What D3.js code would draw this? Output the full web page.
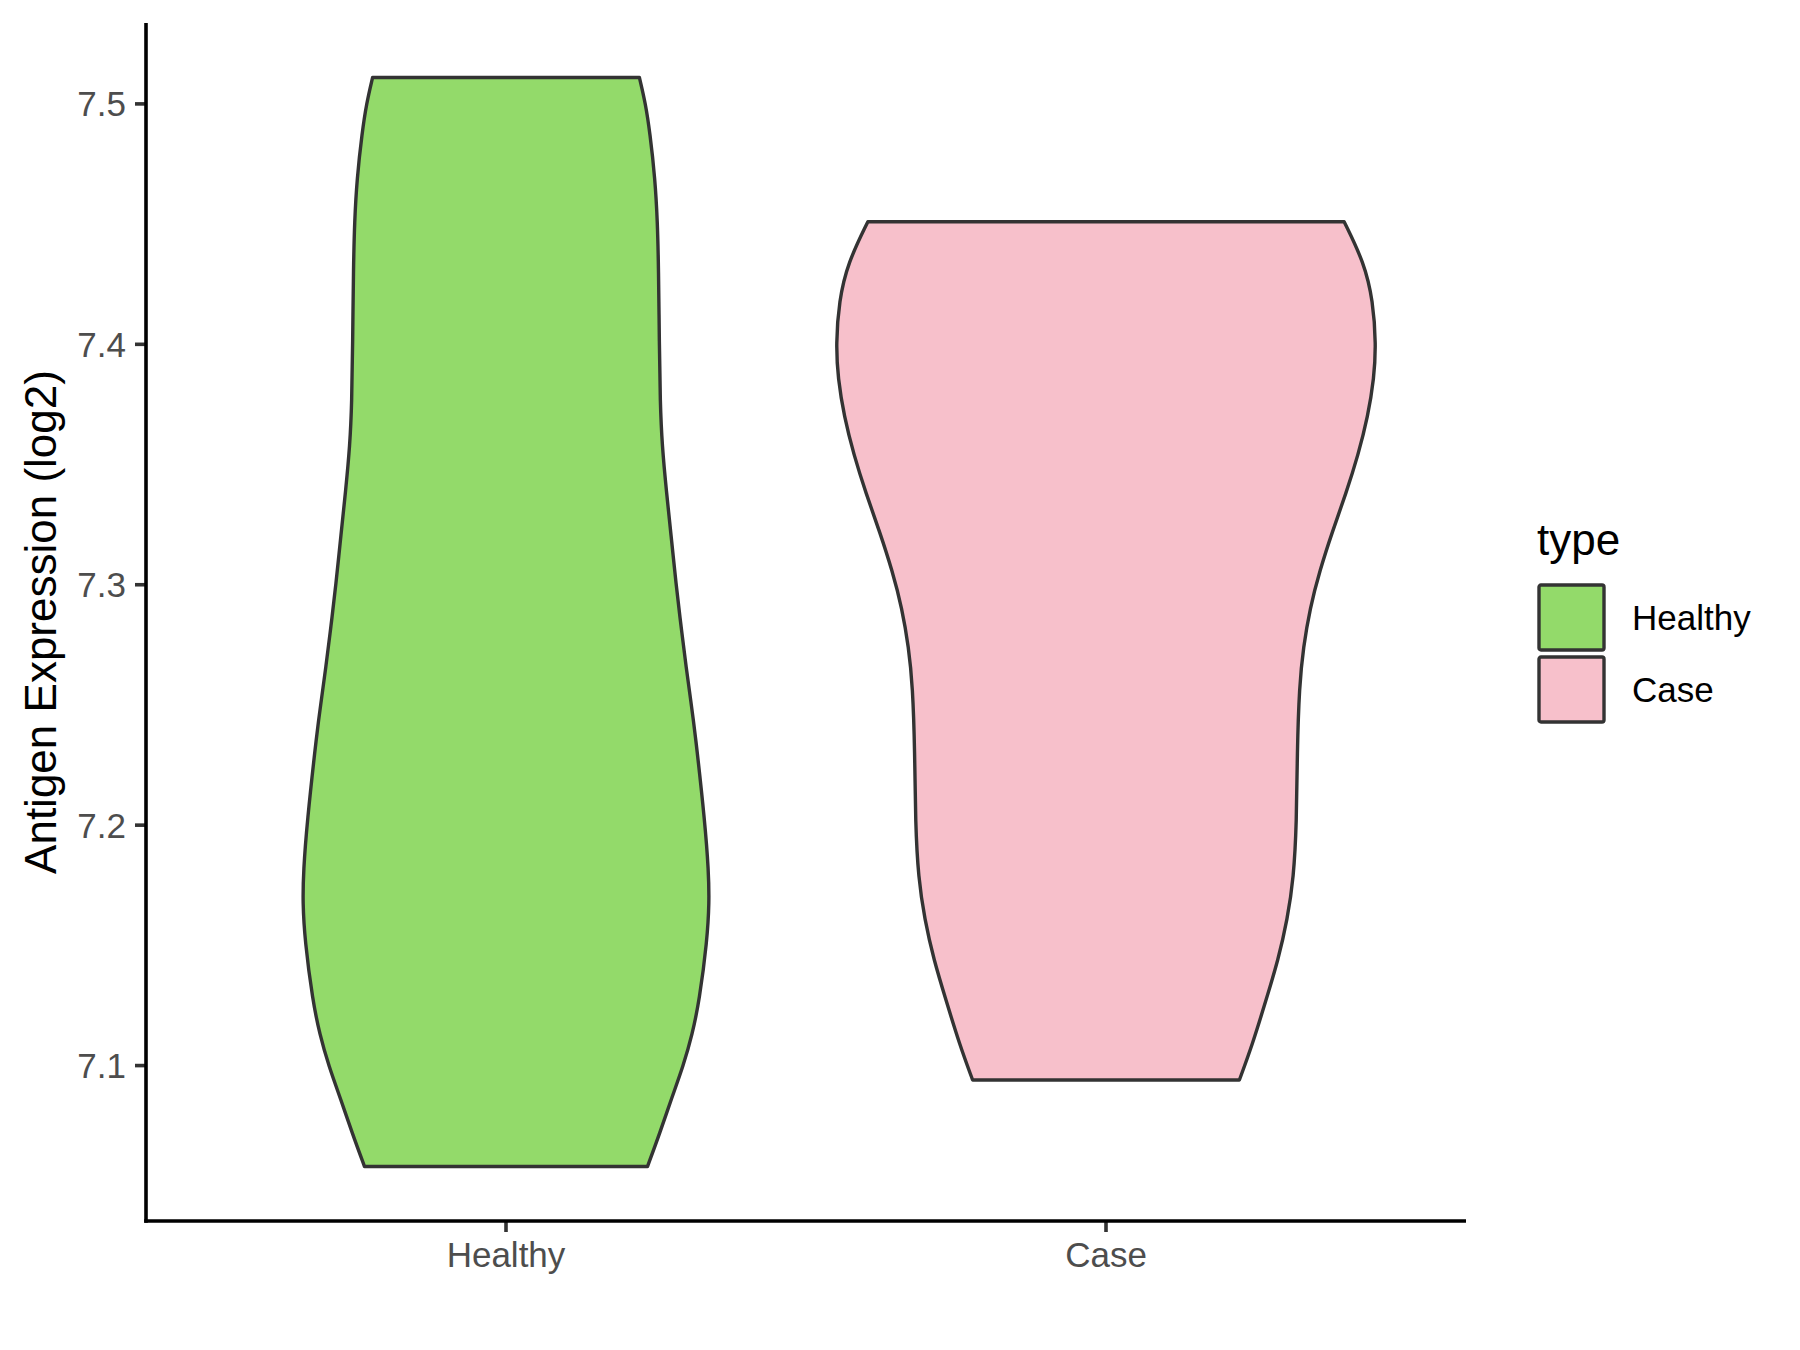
<!DOCTYPE html>
<html>
<head>
<meta charset="utf-8">
<script src="https://cdn.jsdelivr.net/npm/d3@7"></script>
<style>
    body { margin: 0; background: #ffffff; }
    svg text { font-family: "Liberation Sans", Arial, sans-serif; }
</style>
</head>
<body>
<div id="chart"></div>
<script>
// categories and fill colours
var categories = ["Healthy", "Case"]
var fillColors = ["#93DA6A", "#F7C0CB"]
var yTicks = [7.1, 7.2, 7.3, 7.4, 7.5]
var yTitle = "Antigen Expression (log2)"
var legendTitle = "type"

// violin outlines: expression value and relative density
var healthyY = [7.511, 7.500, 7.488, 7.469, 7.451, 7.432, 7.400, 7.376, 7.358, 7.339, 7.321, 7.300,
    7.283, 7.265, 7.252, 7.239, 7.200, 7.181, 7.168, 7.152, 7.127, 7.113, 7.100, 7.086, 7.072, 7.058]
var healthyDensity = [0.494, 0.517, 0.533, 0.552, 0.561, 0.565, 0.568, 0.571, 0.578, 0.594, 0.611, 0.630,
    0.648, 0.668, 0.684, 0.700, 0.738, 0.750, 0.753, 0.745, 0.716, 0.690, 0.657, 0.612, 0.570, 0.524]
var caseY = [7.451, 7.434, 7.418, 7.400, 7.386, 7.370, 7.354, 7.338, 7.322, 7.306, 7.290,
    7.274, 7.258, 7.230, 7.201, 7.178, 7.161, 7.144, 7.127, 7.109, 7.094]
var caseDensity = [0.882, 0.956, 0.989, 1.000, 0.993, 0.970, 0.934, 0.889, 0.838, 0.792, 0.755,
    0.731, 0.716, 0.708, 0.706, 0.695, 0.672, 0.638, 0.592, 0.543, 0.494]

var width = 1800
var height = 1350
var margin = {top: 23, right: 334, bottom: 129, left: 146}

function toPoints(ys, dens) {
    let pts = []
    ys.map((v, i) => {
        pts.push({v: v, d: dens[i]})
    })
    return pts
}

var violins = [
    {name: categories[0], color: fillColors[0], points: toPoints(healthyY, healthyDensity)},
    {name: categories[1], color: fillColors[1], points: toPoints(caseY, caseDensity)}
]

function drawChart() {
    const svg = d3.select("#chart")
        .append("svg")
        .attr("width", width)
        .attr("height", height)
        .attr("viewBox", [0, 0, width, height])

    const x0 = margin.left
    const x1 = width - margin.right
    const y0 = height - margin.bottom
    const y1 = margin.top

    // discrete x scale: ggplot pads 0.6 of a unit on each side
    const xScale = d3.scaleLinear([0.4, categories.length + 0.6], [x0, x1])

    // y domain: data range with 5% expansion
    const allY = healthyY.concat(caseY)
    const yMin = d3.min(allY), yMax = d3.max(allY)
    const pad = (yMax - yMin) * 0.05
    const yScale = d3.scaleLinear([yMin - pad, yMax + pad], [y0, y1])

    // half width: largest density gets 0.45 of a unit
    const maxDens = d3.max(healthyDensity.concat(caseDensity))
    const wScale = d3.scaleLinear([0, maxDens], [0, xScale(1.45) - xScale(1)])

    violins.forEach((vi, i) => {
        const cx = xScale(i + 1)
        const area = d3.area()
            .curve(d3.curveBasis)
            .y(p => yScale(p.v))
            .x0(p => cx - wScale(p.d))
            .x1(p => cx + wScale(p.d))
        svg.append("path")
            .datum(vi.points)
            .attr("d", area)
            .attr("fill", vi.color)
            .attr("stroke", "#333333")
            .attr("stroke-width", 3.4)
            .attr("stroke-linejoin", "round")
    })

    // y axis
    const yAxis = svg.append("g")
    yAxis.selectAll("line.tick")
        .data(yTicks)
        .join("line")
        .attr("x1", x0 - 11)
        .attr("x2", x0)
        .attr("y1", d => yScale(d))
        .attr("y2", d => yScale(d))
        .attr("stroke", "#333333")
        .attr("stroke-width", 3.6)
    yAxis.selectAll("text")
        .data(yTicks)
        .join("text")
        .attr("x", x0 - 20)
        .attr("y", d => yScale(d) + 12.5)
        .attr("text-anchor", "end")
        .attr("font-size", 35)
        .attr("fill", "#4D4D4D")
        .text(d => d3.format(".1f")(d))

    // x axis
    const xAxis = svg.append("g")
    xAxis.selectAll("line")
        .data(categories)
        .join("line")
        .attr("x1", (d, i) => xScale(i + 1))
        .attr("x2", (d, i) => xScale(i + 1))
        .attr("y1", y0)
        .attr("y2", y0 + 11)
        .attr("stroke", "#333333")
        .attr("stroke-width", 3.6)
    xAxis.selectAll("text")
        .data(categories)
        .join("text")
        .attr("x", (d, i) => xScale(i + 1))
        .attr("y", y0 + 46)
        .attr("text-anchor", "middle")
        .attr("font-size", 35)
        .attr("fill", "#4D4D4D")
        .text(d => d)

    // axis lines
    svg.append("line")
        .attr("x1", x0).attr("x2", x0)
        .attr("y1", y1).attr("y2", y0 + 1.8)
        .attr("stroke", "#000000").attr("stroke-width", 3.6)
    svg.append("line")
        .attr("x1", x0 - 1.8).attr("x2", x1)
        .attr("y1", y0).attr("y2", y0)
        .attr("stroke", "#000000").attr("stroke-width", 3.6)

    // y title
    svg.append("text")
        .attr("transform", `translate(56, ${(y0 + y1) / 2}) rotate(-90)`)
        .attr("text-anchor", "middle")
        .attr("font-size", 44)
        .attr("fill", "#000000")
        .text(yTitle)

    // legend
    const legend = svg.append("g").attr("transform", "translate(1537, 0)")
    legend.append("text")
        .attr("x", 0)
        .attr("y", 555)
        .attr("font-size", 44)
        .attr("fill", "#000000")
        .text(legendTitle)
    const keys = legend.selectAll("g.key")
        .data(violins)
        .join("g")
        .attr("transform", (d, i) => `translate(0, ${585 + i * 72})`)
    keys.append("rect")
        .attr("x", 2)
        .attr("y", 0)
        .attr("width", 65)
        .attr("height", 65)
        .attr("rx", 2)
        .attr("fill", d => d.color)
        .attr("stroke", "#333333")
        .attr("stroke-width", 3.4)
    keys.append("text")
        .attr("x", 95)
        .attr("y", 45)
        .attr("font-size", 35)
        .attr("fill", "#000000")
        .text(d => d.name)
}

drawChart()
</script>
</body>
</html>
